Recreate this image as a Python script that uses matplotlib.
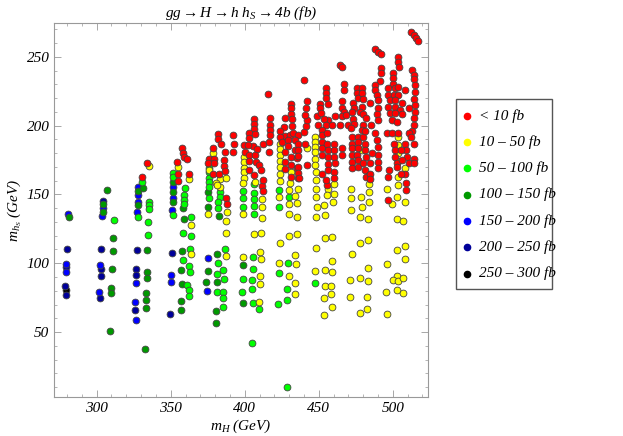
import matplotlib
matplotlib.use("Agg")
import matplotlib.pyplot as plt
from matplotlib.lines import Line2D
from matplotlib.patches import Rectangle

plt.rcParams['font.family'] = ['Liberation Serif', 'DejaVu Serif']
plt.rcParams['font.style'] = 'italic'
plt.rcParams['mathtext.fontset'] = 'custom'
plt.rcParams['mathtext.rm'] = 'Liberation Serif'
plt.rcParams['mathtext.it'] = 'Liberation Serif:italic'

# (m_H, m_hS) in GeV, grouped by cross-section bin
black_pts = [(279, 80.5)]

navy_pts = [(280, 110.3), (279, 97.5), (278.5, 83.4), (279, 76.7),
            (304, 145.4), (303, 110.3), (302.7, 96), (302.7, 90.7), (302.4, 74.7),
            (327, 109.4), (326.4, 95.6), (326.6, 91.6), (326.1, 66.3),
            (350.7, 107.2), (349.5, 63.3)]

blue_pts = [(280.4, 135.5), (279, 99.6), (279, 93.8),
            (304.5, 140), (303.4, 134), (302.2, 98.4), (301.8, 78.8),
            (328.1, 155.6), (327.7, 149.5), (327.7, 144.7), (327, 137), (326.6, 85.4),
            (326.1, 71.8), (326.6, 58.5),
            (351.4, 155.1), (351.4, 147.4), (351.1, 138.4), (350.2, 91.6), (350.2, 86.3),
            (374.9, 104), (374.3, 79.8)]

dgreen_pts = [(281, 133.5),
              (307.2, 153.4), (304.5, 143), (304.5, 137.5), (310.8, 118.3), (310.8, 108.6),
              (310.1, 95.8), (309.5, 81.7), (309.5, 78.5), (309, 51),
              (328.1, 152.6), (331.5, 154.4), (327.7, 142), (334.2, 109.4), (334, 93.8),
              (334.2, 89.3), (333.1, 78.1), (333.1, 73.3), (333.6, 67.2), (332.4, 37.4),
              (351.8, 158.7), (351.8, 152.1), (351.8, 144.5), (358.4, 139.8), (358.8, 132),
              (357.6, 108.6), (357.1, 95.3), (357.6, 85.1), (357, 72.5), (356.8, 66.2),
              (375.5, 151.7), (374.9, 140.6), (374.9, 94.6), (373.8, 86.1), (382.6, 134),
              (381.5, 106.9), (381.5, 86.1), (380.3, 65.3), (380.6, 56.8),
              (398.6, 98.9), (398.6, 70.8)]

lgreen_pts = [(311.9, 131.4),
              (330.8, 159.2), (335.3, 144.7), (335.3, 142), (335.3, 139.2), (327.7, 133.5),
              (334.9, 129.7), (334.5, 120.7),
              (351.8, 165.7), (351.8, 162.8), (359.5, 154.8), (359.2, 149.8), (359, 146.3),
              (359, 143.2), (351.4, 135), (363.9, 133.5), (358.3, 121.7), (363.6, 120),
              (363.3, 110.5), (358.3, 102.4), (362.6, 98.2), (363, 93.8), (361.2, 83.9),
              (362.2, 80.5), (362.4, 76.1),
              (376, 168.9), (376, 166), (376, 162.1), (376, 158.7), (376, 155.6), (376, 147.1),
              (383.1, 151.9), (383.1, 148.3), (382.1, 144.5), (382.1, 139.8), (386.6, 110.3),
              (382.1, 99.9), (381, 92.1), (381, 79), (385.5, 95), (386, 88.3), (385.5, 79),
              (385.5, 74.5), (385.5, 68.4),
              (399, 152.4), (399, 147.6), (399, 141), (406.2, 157.3), (406.2, 151.2),
              (406.2, 146.4), (406.2, 141.5), (406.2, 135.5), (405.3, 104.2), (405.3, 96),
              (398.6, 88.7), (404.7, 87.8), (398.1, 79), (404.9, 81), (405.3, 71.3),
              (409.9, 66.5), (405.1, 42.3),
              (423.4, 153.2), (430.2, 148.4), (423.4, 140.6), (429.5, 100.4), (423, 93.2),
              (428.8, 81.5), (428.8, 73.3), (422.3, 70.4), (428.4, 10.3), (447.5, 85.4)]

yellow_pts = [(335.3, 170.6),
              (354.7, 169.6), (362.6, 161.2), (363.6, 128), (363.6, 106.4),
              (378.8, 180.3), (375.6, 167.7), (383, 161.1), (380.4, 158), (383.1, 155.6),
              (387.6, 162.3), (381, 156.8), (374.9, 135.7), (387.8, 137.4), (387.3, 130.9),
              (387.3, 121.7), (387.1, 105.2),
              (399.8, 177.3), (399.8, 173.7), (399.8, 169.4), (399.8, 166), (399.8, 161.6),
              (399, 158), (399, 135.7), (407, 159.2), (411.5, 146.4), (411.5, 141.1),
              (411.5, 132.6), (406.3, 121.2), (410.8, 122.2), (398.6, 104.8), (410.4, 108.4),
              (410.8, 102.8), (410.4, 90.7), (410.4, 85), (409.5, 72.1),
              (423.4, 148.4), (430.2, 153), (430.2, 143), (430.2, 135.8), (435.6, 143.5),
              (435.1, 133.8), (423.9, 115), (429.7, 120), (435.1, 121.2), (434.2, 106),
              (434.7, 99.5), (423, 100.4), (429.7, 90.7), (434, 85.4), (434.2, 77.7),
              (424, 187), (424, 183), (424, 178.6), (424, 174.5), (424, 170.1), (424, 165),
              (424, 159.7), (431.3, 166), (430.6, 158), (434, 149), (435.8, 154.3),
              (441.9, 183.4),
              (447.5, 191.9), (447.5, 188.2), (447.5, 184.6), (447.5, 180.5), (447.5, 176.1),
              (447.5, 171.3), (448, 166.4), (448, 160.4), (448, 153.6), (448, 148.3),
              (448.6, 141), (448, 133.3), (453.8, 142.2), (454.3, 135), (454.3, 118),
              (458.8, 119.2), (456.5, 153.6), (460, 157.8), (460.4, 150.2), (459.9, 144.6),
              (455.4, 149.5), (448, 110.8), (458.8, 101.9), (447.5, 94.6), (454.3, 95.1),
              (458.8, 93.9), (454.3, 83.7), (458.3, 83.7), (453.8, 74.5), (458.3, 77.4),
              (458.8, 68), (453.8, 62.4),
              (471.8, 153.6), (471.8, 147.1), (471.8, 138.6), (478.6, 148.3), (479, 141),
              (484, 164), (484, 157.5), (484, 151.9), (484, 144.6), (478, 133.7), (483, 131.8),
              (478.1, 114.4), (483.1, 116.6), (472.3, 106.5), (483.1, 96.3), (471.4, 87.8),
              (478.1, 89), (483.1, 87.3), (471.4, 75.7), (482.6, 75.7), (478.1, 64.1),
              (482.4, 66.7), (479.5, 182.2),
              (503.8, 191.9), (503.8, 185.8), (503.8, 179.8), (503.8, 174.4), (503.8, 162.8),
              (503.4, 156.7), (508.3, 168.9), (496, 153.6), (502.7, 148.3), (507.9, 144.6),
              (499.3, 143), (502.7, 131.8), (507.2, 130.8), (502.7, 109.6), (507.9, 112.8),
              (507.9, 103.1), (496.2, 99.7), (502.5, 91), (499.8, 87.8), (503.8, 87.1),
              (507.2, 89), (502.7, 80.5), (495.7, 78.9), (507.2, 78.1), (496.2, 62.9)]

red_pts = [(334.2, 173), (330.8, 162.8),
           (354.5, 173.5), (357.8, 183.5), (358.3, 180), (359.2, 177.3), (361, 175.5),
           (354.7, 164.8), (362.6, 164.8), (354.7, 160),
           (382, 193.8), (382, 190.2), (384, 187), (378.8, 183.9), (386.7, 180.5),
           (392.4, 193.3), (392.6, 186.3), (392, 181), (376.1, 175.9), (379.3, 175.9),
           (375.5, 172.5), (379, 172.5), (386.3, 174.7), (386.3, 170.8), (378.8, 165.2),
           (382.9, 165.2), (386.7, 167.2), (387.2, 147.1), (387.8, 143.2),
           (406.3, 204.7), (406.3, 201.3), (406.3, 197.9), (403, 194.3), (407, 193.8),
           (403, 191), (399.8, 185.8), (405.6, 185.3), (402.5, 185.8), (412, 186.8),
           (416.5, 187.8), (417.1, 205.2), (417.1, 200.8), (417.1, 197), (417.1, 193.1),
           (416.5, 181), (408.3, 182.7), (400.5, 180.8), (403, 178.6), (403, 174.2),
           (403, 167.7), (407, 178.6), (407.4, 173.7), (406.5, 164), (409.7, 171.3),
           (411, 168), (411.5, 156.3), (412, 152.4), (412, 160.4), (416, 222.9),
           (427.3, 205.2), (431.3, 215.4), (431.3, 212.5), (431.3, 208.3), (431.8, 204.6),
           (431.8, 199.9), (426.8, 199.1), (424.1, 196), (427.3, 192.6), (430.5, 193.5),
           (432.9, 195), (436.3, 193.1), (424, 191.9), (425, 187.8), (429.5, 189.5),
           (434, 189.5), (429.5, 185.3), (434, 182.2), (427.3, 181), (427.3, 173.7),
           (427.3, 168.4), (431.3, 177.3), (431.3, 171.3), (431.3, 162.8), (435.5, 176.2),
           (435.5, 168.9), (436, 162), (435.8, 187), (440.8, 187), (435.8, 182.2),
           (435.8, 177.8), (435.8, 170), (436.3, 165.7), (436.7, 161.6), (441.9, 171.3),
           (440.3, 195.5), (441.4, 199.9), (441.9, 204), (440.8, 207.6), (441.4, 213),
           (441.9, 217.8), (439.9, 233),
           (448.6, 207.1), (451.1, 215.9), (451.1, 212.5), (451.6, 208.9), (454.7, 227),
           (454.7, 223.4), (454.7, 220.2), (456, 215.9), (461, 207.1), (456.5, 204),
           (453.4, 204.5), (454.7, 200.4), (458.8, 200.4), (449.8, 200.4), (452, 196.7),
           (452, 188.2), (452, 183.4), (452.5, 178.5), (452.5, 165.2), (452, 193),
           (455.4, 194.3), (455.4, 187), (456, 182.2), (456, 177.3), (456.5, 172),
           (456.5, 167.6), (460, 187), (460.6, 182.2), (460.6, 177.3), (461, 172.5),
           (460.6, 166.4), (460.6, 162.3), (455.4, 156.7), (454.7, 160.4), (465.5, 183.4),
           (465.5, 178.5), (464, 244.4), (465.5, 242.7), (466.9, 229.9), (466.9, 225.8),
           (465.5, 217.8), (465.5, 213), (467.3, 209.6), (465.5, 206.9), (468.2, 208),
           (464.4, 200.4), (470, 200.4),
           (473.2, 216.8), (473.6, 213), (472.7, 209.6), (473.4, 204.7), (474, 200.9),
           (471.8, 198.4), (476.1, 227.5), (476.1, 224), (476.8, 220.2), (479, 227.5),
           (479.5, 223.4), (480.2, 219.7), (479, 213.7), (477.9, 209.6), (480.2, 208.1),
           (484.7, 216.1), (480.2, 200.4), (479, 196.7), (481.7, 205.2), (472.3, 191.9),
           (472.3, 187), (472.3, 183.4), (472.7, 178.5), (472.3, 173.7), (472.7, 168.9),
           (476.3, 191.9), (476.8, 188.2), (476.3, 183.4), (475.7, 178.5), (476.8, 174.9),
           (476.8, 170), (480.2, 191.9), (481.3, 187), (481.3, 182.2), (481.7, 177.3),
           (480.2, 172.5), (481.3, 168.1), (481.7, 162.8), (484.7, 172.5), (484.7, 165.2),
           (484.7, 160.9), (488, 194.3), (489.2, 189.5), (489.9, 184.6), (489.9, 178.5),
           (490.3, 173.7), (489.9, 168.9), (485.8, 179.8), (488, 255.6), (489.9, 253.6),
           (491.7, 252.4), (492.1, 242), (492.1, 237.9), (491.4, 232.3), (488, 229.4),
           (488, 226), (489.2, 222.2), (490.3, 218.5), (490.3, 212.5), (489.2, 208.1),
           (490.3, 204), (485.3, 200.4), (481.3, 196),
           (500, 237.9), (500.4, 234.3), (500.4, 230.6), (497, 227), (501.6, 227),
           (503.8, 228.2), (497, 222.2), (500.7, 222.2), (503.8, 222.2), (498.2, 218.5),
           (501.6, 218.5), (506, 216.1), (497, 213.7), (501.6, 213.7), (505, 211.3),
           (498.2, 208.9), (501.6, 208.9), (506, 208.1), (499.3, 204), (502.7, 202.3),
           (508.3, 225.8), (510.6, 213), (503.8, 250), (503.8, 246.4), (504.3, 242.7),
           (512.4, 267.7), (514, 265.7), (515.5, 263.8), (516.9, 261.4), (512.8, 240.3),
           (514, 236.7), (514.6, 233.8), (515, 229.4), (515, 224.6), (514.6, 219.7),
           (515, 214.9), (515, 209.6), (514, 205.2), (514, 200.4), (512.8, 196),
           (496, 194.3), (499.3, 194.3), (503.8, 194.3), (510.6, 194.3), (501, 187),
           (501.6, 182.2), (501.6, 177.3), (502.7, 172.5), (508.3, 187), (508.8, 182.2),
           (509.5, 177.3), (510.6, 172.5), (512.4, 191.9), (514, 187), (514, 175.4),
           (514.6, 172.5), (497.5, 167.6), (497, 162.8), (502.7, 170), (506, 175),
           (505.5, 182), (508.3, 164.7), (508.8, 158), (508.8, 153.1), (497, 145.9),
           (505.6, 165)]

labels = ['< 10 fb', '10 \u2013 50 fb', '50 \u2013 100 fb', '100 \u2013 150 fb',
          '150 \u2013 200 fb', '200 \u2013 250 fb', '250 \u2013 300 fb']
colors = ['#ff0000', '#ffff00', '#00ff00', '#009900', '#0000ff', '#000099', '#000000']
groups = [red_pts, yellow_pts, lgreen_pts, dgreen_pts, blue_pts, navy_pts, black_pts]

fig = plt.figure(figsize=(6.23, 4.36), dpi=100)
ax = fig.add_axes([0.0872, 0.0894, 0.5994, 0.857])

# draw the large cross sections first, small ones on top
for pts, c in reversed(list(zip(groups, colors))):
    xs = [p[0] for p in pts]
    ys = [p[1] for p in pts]
    ax.scatter(xs, ys, s=24, c=c, edgecolors='#444444', linewidths=0.6, zorder=3)

ax.set_xlim(271.4, 523.6)
ax.set_ylim(2.8, 274.3)
ax.set_xticks([300, 350, 400, 450, 500])
ax.set_yticks([50, 100, 150, 200, 250])
ax.set_xticks(range(280, 521, 10), minor=True)
ax.set_yticks(range(10, 271, 10), minor=True)
ax.tick_params(which='both', direction='in', top=True, right=True, colors='#999999',
               labelcolor='black', labelsize=11)
ax.tick_params(which='major', length=5, width=0.6)
ax.tick_params(which='minor', length=2.5, width=0.5)
for sp in ax.spines.values():
    sp.set_color('#999999')
    sp.set_linewidth(0.8)

ax.set_xlabel(r'$m_H\ (GeV)$', fontsize=11, labelpad=2)
ax.set_ylabel(r'$m_{h_S}\ (GeV)$', fontsize=11, labelpad=2)
ax.set_title(r'$gg \rightarrow H \rightarrow h\ h_S \rightarrow 4b\ (fb)$', fontsize=11, pad=5)

# legend box drawn by hand
fig.add_artist(Rectangle((0.732, 0.3372), 0.154, 0.435, transform=fig.transFigure,
                         fill=False, edgecolor='#555555', linewidth=1.0))
for i, (lab, c) in enumerate(zip(labels, colors)):
    yy = 1 - (115.7 + 26.3 * i) / 436
    fig.add_artist(Line2D([0.750], [yy], transform=fig.transFigure, marker='o',
                          markersize=4.5, color=c, linestyle='none'))
    fig.text(0.769, yy, lab, fontsize=11, va='center', ha='left', style='italic')

fig.savefig('out.png', dpi=100)
